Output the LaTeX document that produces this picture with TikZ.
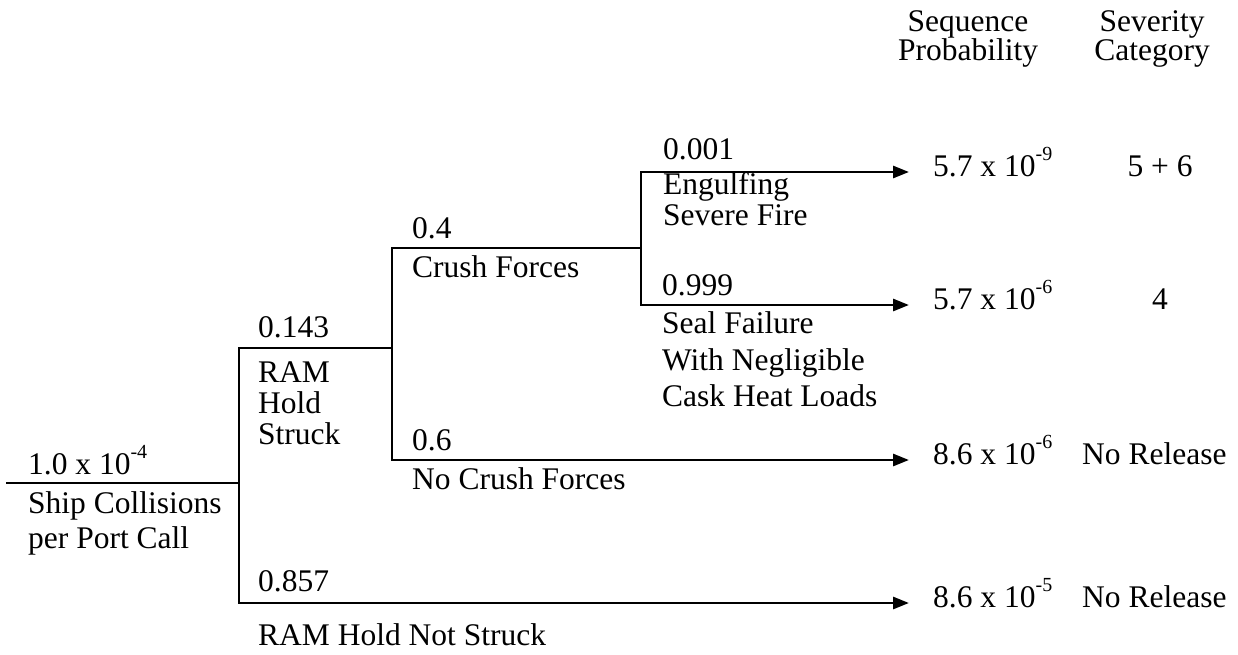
\documentclass[tikz,border=0pt]{standalone}
\usepackage{fontspec}
\setmainfont{Liberation Serif}
\usetikzlibrary{arrows.meta}
\newcommand{\sexp}[1]{\raisebox{0.48em}{\fontsize{20}{20}\selectfont #1}}
\begin{document}
\begin{tikzpicture}[x=1pt,y=-1pt,
  txt/.style={anchor=base west, inner sep=0pt, font=\fontsize{31.5}{31.5}\selectfont},
  tight/.style={txt, text height=0.68em, text depth=0.12em},
  ctxt/.style={anchor=base, inner sep=0pt, font=\fontsize{31.5}{31.5}\selectfont},
  branch/.style={line width=2.8pt, line cap=rect, line join=miter},
  arr/.style={line width=2.8pt, -{Triangle[length=16pt,width=12pt]}}]
\useasboundingbox (0,0) rectangle (1238,655);
% junction coordinates
\coordinate (root) at (7,483);
\coordinate (n1)  at (239,483);
\coordinate (n1t) at (239,348);
\coordinate (n1b) at (239,603);
\coordinate (n2)  at (392,348);
\coordinate (n2t) at (392,248);
\coordinate (n2b) at (392,460);
\coordinate (n3)  at (641,248);
\coordinate (n3t) at (641,172);
\coordinate (n3b) at (641,305);
\coordinate (e1) at (909,172);
\coordinate (e2) at (909,305);
\coordinate (e3) at (909,460);
\coordinate (e4) at (909,603);
% tree lines
\draw[branch] (root) -- (n1);
\draw[branch] (n2) -- (n1t) -- (n1b);
\draw[branch] (n3) -- (n2t) -- (n2b);
\draw[branch] (n3t) -- (n3b);
\draw[arr] (n3t) -- (e1);
\draw[arr] (n3b) -- (e2);
\draw[arr] (n2b) -- (e3);
\draw[arr] (n1b) -- (e4);
% headers
\node[ctxt] (h1a) at (968,32) {Sequence};
\node[ctxt] (h1b) at (968,61) {Probability};
\node[ctxt] (h2a) at (1152,32) {Severity};
\node[ctxt] (h2b) at (1152,61) {Category};
% branch labels
\node[txt] (p001) at (663,160) {0.001};
\node[tight] (l1a) at (663,194) {Engulfing};
\node[tight] (l1b) at (663,225) {Severe Fire};
\node[txt] (p04) at (412,238) {0.4};
\node[txt] (l2) at (412,277) {Crush Forces};
\node[txt] (p999) at (662,295) {0.999};
\node[txt] (l3a) at (662,333) {Seal Failure};
\node[txt] (l3b) at (662,370) {With Negligible};
\node[txt] (l3c) at (662,406) {Cask Heat Loads};
\node[txt] (p143) at (258,337) {0.143};
\node[tight] (l4a) at (258,382) {RAM};
\node[tight] (l4b) at (258,413) {Hold};
\node[tight] (l4c) at (258,444) {Struck};
\node[txt] (p0) at (28,474) {1.0 x 10\sexp{-4}};
\node[txt] (l0a) at (28,513) {Ship Collisions};
\node[txt] (l0b) at (28,548) {per Port Call};
\node[txt] (p06) at (412,450) {0.6};
\node[txt] (l5) at (412,489) {No Crush Forces};
\node[txt] (p857) at (258,591) {0.857};
\node[txt] (l6) at (258,645) {RAM Hold Not Struck};
% outcomes
\node[txt] (r1) at (933,176) {5.7 x 10\sexp{-9}};
\node[ctxt] (c1) at (1160,176) {5 + 6};
\node[txt] (r2) at (933,309) {5.7 x 10\sexp{-6}};
\node[ctxt] (c2) at (1160,309) {4};
\node[txt] (r3) at (933,464) {8.6 x 10\sexp{-6}};
\node[txt] (c3) at (1082,464) {No Release};
\node[txt] (r4) at (933,607) {8.6 x 10\sexp{-5}};
\node[txt] (c4) at (1082,607) {No Release};
\end{tikzpicture}
\end{document}
